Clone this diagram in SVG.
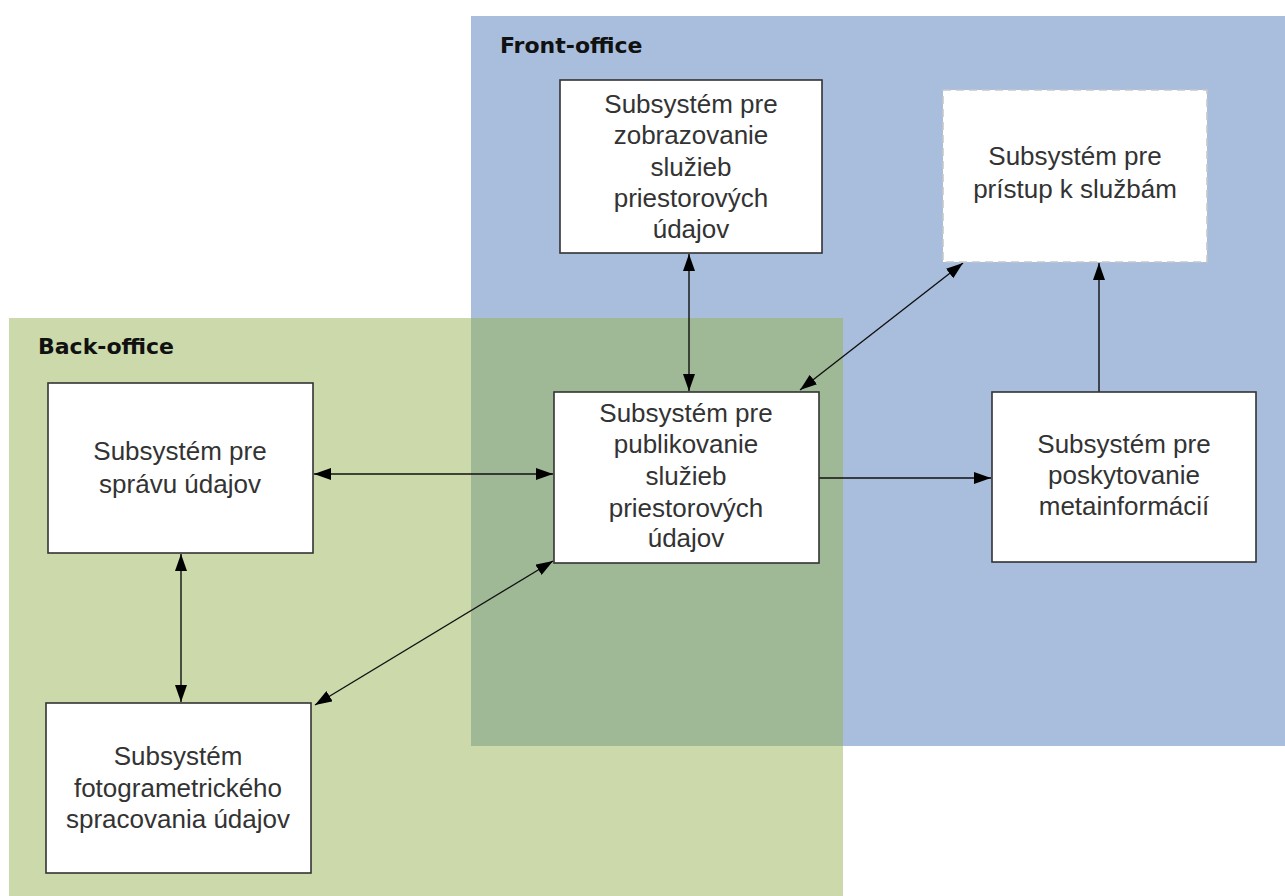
<svg xmlns="http://www.w3.org/2000/svg" width="1285" height="896" viewBox="0 0 1285 896">
  <style>
    .zone-title { font-family: "DejaVu Sans", Verdana, sans-serif; font-weight: bold; font-size: 22px; fill: #111; }
    .box { fill: #ffffff; stroke: #333333; stroke-width: 1.6; }
    .box-dashed { fill: #ffffff; stroke: #c8c8c8; stroke-width: 1.6; stroke-dasharray: 8 5; }
    .label { font-family: "Liberation Sans", Arial, sans-serif; font-size: 26px; fill: #333333; text-anchor: middle; }
    .link { stroke: #111111; stroke-width: 1.4; fill: none; }
  </style>
  <defs>
    <marker id="arrow" viewBox="0 0 17 12" refX="17" refY="6" markerWidth="17" markerHeight="12" markerUnits="userSpaceOnUse" orient="auto-start-reverse">
      <path d="M0,0 L17,6 L0,12 z" fill="#000"/>
    </marker>
  </defs>

  <rect width="1285" height="896" fill="#ffffff"/>

  <!-- zones -->
  <g id="zones">
    <rect x="471" y="16" width="814" height="730" fill="#a8bedc"/>
    <rect x="9" y="318" width="834" height="578" fill="#cbd9ab"/>
    <rect x="471" y="318" width="372" height="428" fill="#9fb996"/>
    <text class="zone-title" x="500" y="53">Front-office</text>
    <text class="zone-title" x="38" y="354">Back-office</text>
  </g>

  <!-- connectors -->
  <g id="connectors">
    <line class="link" x1="689" y1="254" x2="689" y2="391" marker-start="url(#arrow)" marker-end="url(#arrow)"/>
    <line class="link" x1="800" y1="390" x2="963" y2="263" marker-start="url(#arrow)" marker-end="url(#arrow)"/>
    <line class="link" x1="1099" y1="392" x2="1099" y2="263" marker-end="url(#arrow)"/>
    <line class="link" x1="314" y1="474" x2="553" y2="474" marker-start="url(#arrow)" marker-end="url(#arrow)"/>
    <line class="link" x1="819" y1="478" x2="991" y2="478" marker-end="url(#arrow)"/>
    <line class="link" x1="181" y1="554" x2="181" y2="702" marker-start="url(#arrow)" marker-end="url(#arrow)"/>
    <line class="link" x1="553" y1="561" x2="315" y2="705" marker-start="url(#arrow)" marker-end="url(#arrow)"/>
  </g>

  <g id="node-zobrazovanie">
    <rect class="box" x="560" y="80" width="262" height="173"/>
    <text class="label" x="691" y="113">Subsystém pre</text>
    <text class="label" x="691" y="144">zobrazovanie</text>
    <text class="label" x="691" y="176">služieb</text>
    <text class="label" x="691" y="207">priestorových</text>
    <text class="label" x="691" y="238">údajov</text>
  </g>

  <g id="node-pristup">
    <rect class="box-dashed" x="943" y="90" width="264" height="172"/>
    <text class="label" x="1075" y="165">Subsystém pre</text>
    <text class="label" x="1075" y="198">prístup k službám</text>
  </g>

  <g id="node-spravu">
    <rect class="box" x="48" y="383" width="265" height="170"/>
    <text class="label" x="180" y="460">Subsystém pre</text>
    <text class="label" x="180" y="493">správu údajov</text>
  </g>

  <g id="node-publikovanie">
    <rect class="box" x="554" y="392" width="265" height="171"/>
    <text class="label" x="686" y="422">Subsystém pre</text>
    <text class="label" x="686" y="453">publikovanie</text>
    <text class="label" x="686" y="485">služieb</text>
    <text class="label" x="686" y="517">priestorových</text>
    <text class="label" x="686" y="547">údajov</text>
  </g>

  <g id="node-metainformacie">
    <rect class="box" x="992" y="392" width="264" height="170"/>
    <text class="label" x="1124" y="453">Subsystém pre</text>
    <text class="label" x="1124" y="484">poskytovanie</text>
    <text class="label" x="1124" y="515">metainformácií</text>
  </g>

  <g id="node-fotogrametria">
    <rect class="box" x="46" y="703" width="265" height="170"/>
    <text class="label" x="178" y="765">Subsystém</text>
    <text class="label" x="178" y="797">fotogrametrického</text>
    <text class="label" x="178" y="828">spracovania údajov</text>
  </g>
</svg>
